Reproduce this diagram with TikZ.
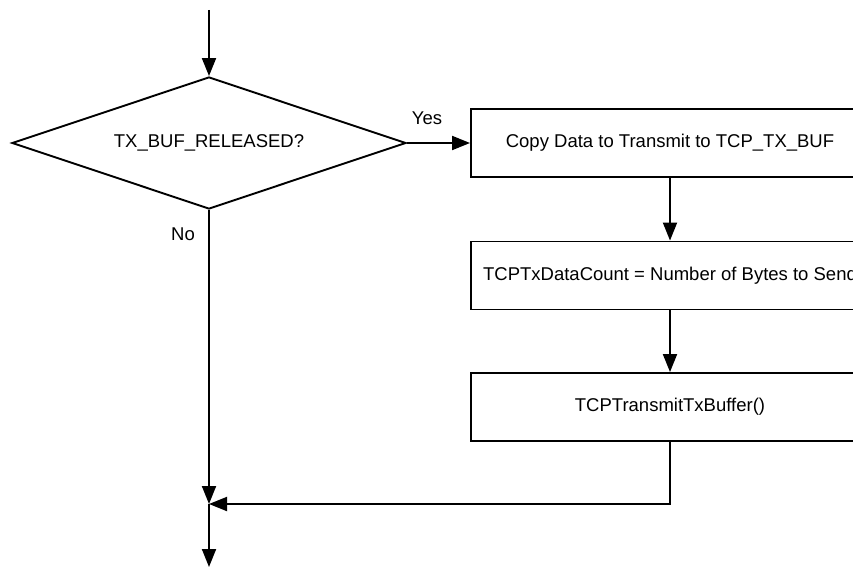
\documentclass[tikz,border=0pt]{standalone}
\usepackage{fontspec}
\setmainfont{Liberation Sans}
\usetikzlibrary{shapes.geometric,arrows.meta}
\begin{document}
\begin{tikzpicture}[x=1pt,y=-1pt,
  line width=1.9pt,
  flow/.style={-{Triangle[length=18pt,width=14pt]}},
  procbox/.style={draw,rectangle,minimum width=398pt,minimum height=68pt,inner sep=0pt,font=\fontsize{18.5}{22}\selectfont},
  lbl/.style={font=\fontsize{18.5}{22}\selectfont}]
\useasboundingbox (0,0) rectangle (853,567);
\clip (0,0) rectangle (853,567);
\coordinate (top) at (209,10);
\node[draw,diamond,aspect=3,minimum width=394pt,minimum height=132pt,inner sep=0pt,font=\fontsize{18.5}{22}\selectfont] (dec) at (209,143) {TX\_BUF\_RELEASED?};
\node[procbox] (b1) at (670,143) {Copy Data to Transmit to TCP\_TX\_BUF};
\node[procbox] (b2) at (670,275.5) {TCPTxDataCount = Number of Bytes to Send};
\node[procbox] (b3) at (670,407) {TCPTransmitTxBuffer()};
\coordinate (merge) at (209,504);
\coordinate (bot) at (209,567);
\draw[flow] (top) -- (dec.north);
\draw[flow] (dec.east) -- (b1.west);
\draw[flow] (b1.south) -- (b2.north);
\draw[flow] (b2.south) -- (b3.north);
\draw[flow] (b3.south) |- (merge);
\draw[flow] (dec.south) -- (merge);
\draw[flow] (merge) -- (bot);
\node[lbl] (yes) at (427,118) {Yes};
\node[lbl] (no) at (183,234) {No};
\end{tikzpicture}
\end{document}
